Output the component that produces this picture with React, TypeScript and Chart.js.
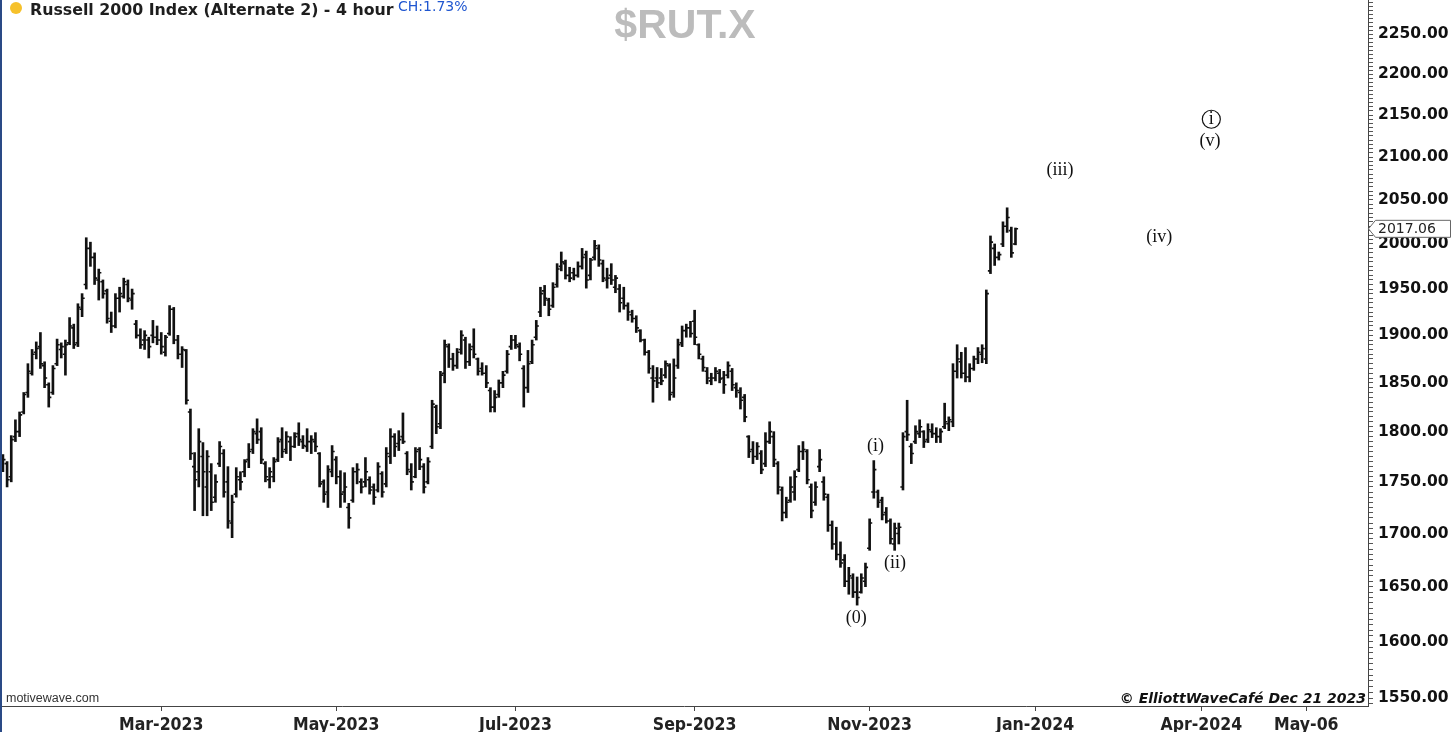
import React, { useEffect, useRef } from 'react';
import { Chart, registerables } from 'chart.js';

Chart.register(...registerables);

// ---- Data (one bar per trading day, Jan 4 2023 .. Dec 21 2023) ----
const highs = [
  1777,1770,1796,1812,1820,1840,1870,1885,1893,1903,
  1872,1850,1868,1896,1892,1895,1919,1912,1934,1945,
  2007,2002,1990,1972,1960,1950,1925,1945,1952,1962,
  1960,1950,1916,1907,1905,1898,1916,1910,1903,1900,
  1932,1930,1900,1888,1885,1823,1779,1803,1789,1781,
  1768,1757,1790,1782,1765,1737,1764,1760,1772,1788,
  1803,1813,1804,1770,1764,1774,1794,1804,1800,1795,
  1799,1809,1796,1803,1796,1799,1779,1752,1766,1786,
  1775,1761,1759,1729,1764,1768,1753,1774,1755,1748,
  1769,1760,1784,1803,1798,1801,1819,1780,1768,1784,
  1784,1768,1774,1832,1827,1862,1895,1891,1881,1886,
  1905,1898,1891,1907,1876,1871,1868,1845,1842,1853,
  1862,1884,1900,1900,1892,1868,1884,1895,1916,1952,
  1954,1940,1957,1978,1991,1982,1974,1973,1980,1995,
  1992,1984,2004,1999,1982,1973,1978,1965,1955,1952,
  1935,1927,1921,1906,1896,1884,1868,1866,1865,1873,
  1870,1875,1896,1910,1912,1915,1927,1891,1878,1866,
  1860,1866,1864,1862,1872,1865,1850,1845,1838,1796,
  1790,1789,1781,1799,1810,1800,1770,1745,1735,1755,
  1761,1786,1790,1782,1748,1750,1782,1755,1738,1712,
  1706,1692,1680,1668,1662,1659,1662,1672,1714,1771,
  1742,1735,1725,1714,1710,1710,1799,1832,1788,1806,
  1812,1801,1808,1808,1804,1803,1829,1815,1870,1890,
  1882,1887,1870,1878,1887,1890,1949,2009,2000,1991,
  2025,2041,2019,2018,
];
const lows = [
  1760,1745,1750,1790,1795,1818,1835,1858,1875,1865,
  1845,1825,1838,1868,1876,1858,1890,1886,1888,1920,
  1950,1975,1955,1938,1940,1913,1903,1908,1925,1940,
  1936,1928,1897,1886,1885,1876,1892,1890,1880,1878,
  1900,1891,1875,1866,1828,1772,1722,1745,1717,1717,
  1722,1730,1765,1735,1705,1696,1735,1742,1755,1764,
  1778,1788,1768,1750,1744,1750,1770,1774,1778,1771,
  1784,1786,1783,1780,1778,1780,1745,1730,1725,1755,
  1748,1725,1730,1705,1730,1748,1739,1745,1738,1728,
  1740,1735,1745,1768,1775,1781,1788,1757,1742,1754,
  1762,1739,1748,1783,1798,1803,1850,1866,1863,1865,
  1880,1865,1868,1876,1858,1858,1845,1820,1820,1835,
  1845,1860,1885,1886,1873,1825,1840,1870,1895,1920,
  1932,1921,1930,1952,1970,1961,1958,1960,1963,1972,
  1951,1960,1982,1975,1958,1951,1955,1946,1925,1928,
  1916,1914,1903,1893,1879,1860,1830,1845,1848,1855,
  1832,1835,1865,1888,1898,1898,1890,1875,1862,1849,
  1848,1852,1850,1839,1855,1842,1835,1823,1810,1774,
  1768,1772,1758,1765,1788,1765,1738,1712,1715,1730,
  1732,1760,1772,1748,1715,1727,1760,1732,1702,1685,
  1675,1668,1650,1643,1640,1633,1644,1650,1684,1734,
  1725,1713,1710,1690,1684,1690,1742,1791,1768,1788,
  1794,1784,1789,1794,1789,1789,1803,1801,1805,1855,
  1855,1851,1851,1863,1870,1871,1870,1967,1976,1982,
  1997,2013,1985,1999,
];
const opens = [
  1765,1768,1755,1795,1800,1820,1840,1860,1882,1888,
  1868,1848,1840,1870,1885,1880,1892,1908,1892,1928,
  1955,1995,1985,1960,1958,1948,1915,1910,1940,1942,
  1955,1938,1912,1900,1895,1895,1900,1898,1895,1882,
  1902,1928,1895,1880,1884,1820,1765,1760,1775,1745,
  1760,1735,1768,1778,1750,1710,1738,1752,1760,1772,
  1782,1798,1800,1768,1752,1755,1772,1792,1782,1790,
  1785,1798,1790,1785,1790,1790,1778,1750,1740,1760,
  1772,1755,1740,1725,1732,1760,1750,1750,1752,1745,
  1742,1758,1748,1775,1795,1788,1795,1778,1760,1755,
  1782,1765,1750,1785,1825,1808,1860,1888,1875,1868,
  1885,1895,1872,1888,1875,1865,1860,1842,1825,1838,
  1850,1862,1888,1895,1888,1865,1845,1872,1898,1925,
  1948,1938,1932,1955,1975,1978,1965,1968,1965,1975,
  1988,1965,1985,1995,1978,1960,1965,1952,1950,1940,
  1932,1922,1918,1905,1895,1882,1855,1855,1855,1858,
  1868,1840,1868,1892,1905,1908,1915,1890,1875,1862,
  1852,1855,1860,1855,1858,1862,1845,1840,1835,1795,
  1782,1775,1778,1768,1790,1795,1768,1742,1720,1732,
  1740,1762,1780,1780,1745,1730,1765,1750,1735,1708,
  1690,1680,1675,1655,1658,1645,1645,1655,1686,1740,
  1740,1732,1720,1712,1690,1700,1745,1800,1785,1790,
  1798,1800,1792,1800,1798,1795,1805,1808,1810,1862,
  1872,1860,1856,1865,1875,1880,1875,1970,1995,1985,
  2000,2020,2015,2000,
];
const closes = [
  1772,1752,1792,1800,1817,1838,1862,1880,1886,1870,
  1855,1835,1865,1890,1888,1890,1910,1890,1930,1940,
  1995,1985,1962,1968,1945,1918,1910,1940,1945,1958,
  1940,1945,1900,1890,1900,1888,1898,1895,1888,1898,
  1928,1895,1880,1885,1832,1778,1752,1790,1760,1775,
  1730,1750,1785,1740,1712,1730,1755,1750,1770,1780,
  1800,1792,1772,1755,1760,1770,1790,1780,1795,1785,
  1795,1792,1786,1790,1792,1785,1748,1738,1762,1780,
  1755,1738,1745,1715,1760,1762,1745,1760,1742,1735,
  1765,1740,1778,1795,1785,1792,1790,1762,1750,1780,
  1772,1745,1770,1828,1805,1858,1890,1875,1868,1882,
  1900,1872,1885,1880,1862,1860,1850,1825,1835,1850,
  1858,1880,1895,1890,1880,1845,1870,1890,1910,1945,
  1940,1928,1952,1972,1980,1965,1962,1965,1975,1985,
  1960,1982,1998,1982,1962,1962,1960,1962,1935,1932,
  1925,1918,1908,1895,1882,1865,1852,1850,1852,1870,
  1838,1855,1890,1905,1908,1902,1898,1880,1866,1855,
  1855,1862,1854,1848,1868,1848,1842,1832,1815,1780,
  1775,1785,1762,1790,1800,1772,1745,1720,1730,1745,
  1755,1780,1782,1752,1722,1745,1772,1738,1708,1690,
  1680,1672,1655,1660,1645,1640,1658,1668,1710,1762,
  1730,1718,1712,1695,1705,1706,1795,1797,1778,1800,
  1805,1790,1802,1798,1795,1800,1810,1812,1862,1875,
  1860,1856,1865,1875,1882,1886,1945,2002,1985,1988,
  2020,2030,1990,2017.06,
];

// x axis: positions in bar units, with labels
const xTickValues = [38, 80, 123, 166, 208, 247.7, 287.6, 312.8];
const xTickLabels = ['Mar-2023', 'May-2023', 'Jul-2023', 'Sep-2023', 'Nov-2023', 'Jan-2024', 'Apr-2024', 'May-06'];
const xMin = -0.7;
const xMax = 327.6;

// y axis (log scale)
const yLabelValues = [1550, 1600, 1650, 1700, 1750, 1800, 1850, 1900, 1950, 2000, 2050, 2100, 2150, 2200, 2250];
const yMin = 1543.1;
const yMax = 2293.5;
const yMinorStep = 5;

// Elliott wave labels
const waveTexts = ['(0)', '(i)', '(ii)', '(iii)', '(iv)', '(v)', 'i'];
const waveX = [204.8, 209.4, 214.1, 253.7, 277.5, 289.7, 290.0];
const waveY = [1621, 1785, 1672, 2084.6, 2007.7, 2118.8, 2145];
const waveCircled = [false, false, false, false, false, false, true];

const lastPrice = closes[closes.length - 1];

export default function App() {
  const ref = useRef<HTMLCanvasElement | null>(null);

  useEffect(() => {
    const canvas = ref.current;
    if (!canvas) return;

    const yTicks: number[] = [];
    for (let v = 1545; v <= 2290; v += yMinorStep) yTicks.push(v);

    const ohlcPlugin = {
      id: 'ohlcTicks',
      afterDatasetsDraw(chart: any) {
        const { ctx, scales } = chart;
        const xs = scales.x;
        const ys = scales.y;
        ctx.save();
        ctx.strokeStyle = '#111';
        ctx.lineWidth = 1.6;
        ctx.beginPath();
        for (let i = 0; i < highs.length; i++) {
          const xp = xs.getPixelForValue(i);
          const yo = ys.getPixelForValue(opens[i]);
          const yc = ys.getPixelForValue(closes[i]);
          ctx.moveTo(xp - 2.6, yo);
          ctx.lineTo(xp, yo);
          ctx.moveTo(xp, yc);
          ctx.lineTo(xp + 2.6, yc);
        }
        ctx.stroke();
        ctx.restore();
      },
    };

    const decorPlugin = {
      id: 'decor',
      beforeDraw(chart: any) {
        const { ctx, width, height } = chart;
        ctx.save();
        ctx.fillStyle = '#ffffff';
        ctx.fillRect(0, 0, width, height);
        ctx.restore();
      },
      afterDraw(chart: any) {
        const { ctx, scales } = chart;
        const xs = scales.x;
        const ys = scales.y;
        ctx.save();
        // left frame line
        ctx.fillStyle = '#2a4a86';
        ctx.fillRect(0, 0, 2, 732);

        // title dot
        ctx.fillStyle = '#f6c12b';
        ctx.beginPath();
        ctx.arc(16, 8, 6, 0, Math.PI * 2);
        ctx.fill();

        // title
        ctx.fillStyle = '#1e1e1e';
        ctx.font = 'bold 15.8px "DejaVu Sans"';
        ctx.textAlign = 'left';
        ctx.textBaseline = 'alphabetic';
        ctx.fillText('Russell 2000 Index (Alternate 2) - 4 hour', 30, 15);

        ctx.fillStyle = '#1f56d0';
        ctx.font = '14px "DejaVu Sans"';
        ctx.fillText('CH:1.73%', 398, 11);

        // symbol watermark
        ctx.fillStyle = '#bcbcbc';
        ctx.font = 'bold 41px "Liberation Sans"';
        ctx.textAlign = 'center';
        ctx.fillText('$RUT.X', 685, 38);

        // bottom texts
        ctx.fillStyle = '#333';
        ctx.font = '12.5px "Liberation Sans"';
        ctx.textAlign = 'left';
        ctx.fillText('motivewave.com', 6, 702);

        ctx.fillStyle = '#111';
        ctx.font = 'italic bold 14px "DejaVu Sans"';
        ctx.textAlign = 'right';
        ctx.fillText('\u00a9 ElliottWaveCaf\u00e9 Dec 21 2023', 1366, 703);

        // wave labels
        ctx.font = '18px "Liberation Serif"';
        ctx.textAlign = 'center';
        ctx.textBaseline = 'middle';
        ctx.fillStyle = '#111';
        for (let i = 0; i < waveTexts.length; i++) {
          const px = xs.getPixelForValue(waveX[i]);
          const py = ys.getPixelForValue(waveY[i]);
          ctx.fillText(waveTexts[i], px, py);
          if (waveCircled[i]) {
            ctx.strokeStyle = '#111';
            ctx.lineWidth = 1.2;
            ctx.beginPath();
            ctx.arc(px, py, 9, 0, Math.PI * 2);
            ctx.stroke();
          }
        }

        // last price tag
        const ty = ys.getPixelForValue(lastPrice);
        const left = xs.right;
        ctx.fillStyle = '#ffffff';
        ctx.strokeStyle = '#666';
        ctx.lineWidth = 1;
        ctx.beginPath();
        ctx.moveTo(left + 0.5, ty);
        ctx.lineTo(left + 7.5, ty - 8.5);
        ctx.lineTo(left + 82.5, ty - 8.5);
        ctx.lineTo(left + 82.5, ty + 8.5);
        ctx.lineTo(left + 7.5, ty + 8.5);
        ctx.closePath();
        ctx.fill();
        ctx.stroke();
        ctx.fillStyle = '#222';
        ctx.font = '14px "DejaVu Sans"';
        ctx.textAlign = 'left';
        ctx.textBaseline = 'middle';
        ctx.fillText(lastPrice.toFixed(2), left + 10, ty + 1);
        ctx.restore();
      },
    };

    const chart = new Chart(canvas, {
      type: 'bar',
      data: {
        datasets: [
          {
            data: highs.map((h, i) => ({ x: i, y: [lows[i], h] })) as any,
            backgroundColor: '#111',
            borderWidth: 0,
            barThickness: 2,
            grouped: false,
          } as any,
        ],
      },
      options: {
        responsive: false,
        animation: false,
        devicePixelRatio: 1,
        layout: { padding: 0 },
        plugins: {
          legend: { display: false },
          tooltip: { enabled: false },
        },
        events: [],
        scales: {
          x: {
            type: 'linear',
            min: xMin,
            max: xMax,
            offset: false,
            afterBuildTicks: (s: any) => {
              s.ticks = xTickValues.map((v) => ({ value: v }));
            },
            afterFit: (s: any) => {
              s.height = 26;
              s.paddingLeft = 0;
              s.paddingRight = 0;
            },
            grid: { drawOnChartArea: false, offset: false, tickLength: 5, color: '#444' },
            border: { display: true, color: '#444', width: 1 },
            ticks: {
              autoSkip: false,
              maxRotation: 0,
              padding: 4,
              color: '#222',
              font: { family: '"DejaVu Sans Condensed", "DejaVu Sans"', size: 17.5, weight: 'bold' },
              callback: (_v: any, i: number) => xTickLabels[i],
            },
          },
          y: {
            type: 'logarithmic',
            position: 'right',
            min: yMin,
            max: yMax,
            afterBuildTicks: (s: any) => {
              s.ticks = yTicks.map((v) => ({ value: v }));
            },
            afterFit: (s: any) => {
              s.width = 88;
              s.paddingTop = 0;
              s.paddingBottom = 0;
            },
            grid: { drawOnChartArea: false, tickLength: 5, color: '#555' },
            border: { display: true, color: '#444', width: 1 },
            ticks: {
              autoSkip: false,
              padding: 5,
              color: '#111',
              font: { family: '"DejaVu Sans"', size: 15.5, weight: 'bold' },
              callback: (v: any) => (yLabelValues.indexOf(Number(v)) >= 0 ? Number(v).toFixed(2) : ''),
            },
          },
        },
      } as any,
      plugins: [ohlcPlugin, decorPlugin],
    });

    return () => chart.destroy();
  }, []);

  return (
    <div style={{ position: 'absolute', left: 0, top: 0, width: 1456, height: 732, background: '#fff' }}>
      <canvas ref={ref} width={1456} height={732} style={{ display: 'block', width: 1456, height: 732 }} />
    </div>
  );
}
